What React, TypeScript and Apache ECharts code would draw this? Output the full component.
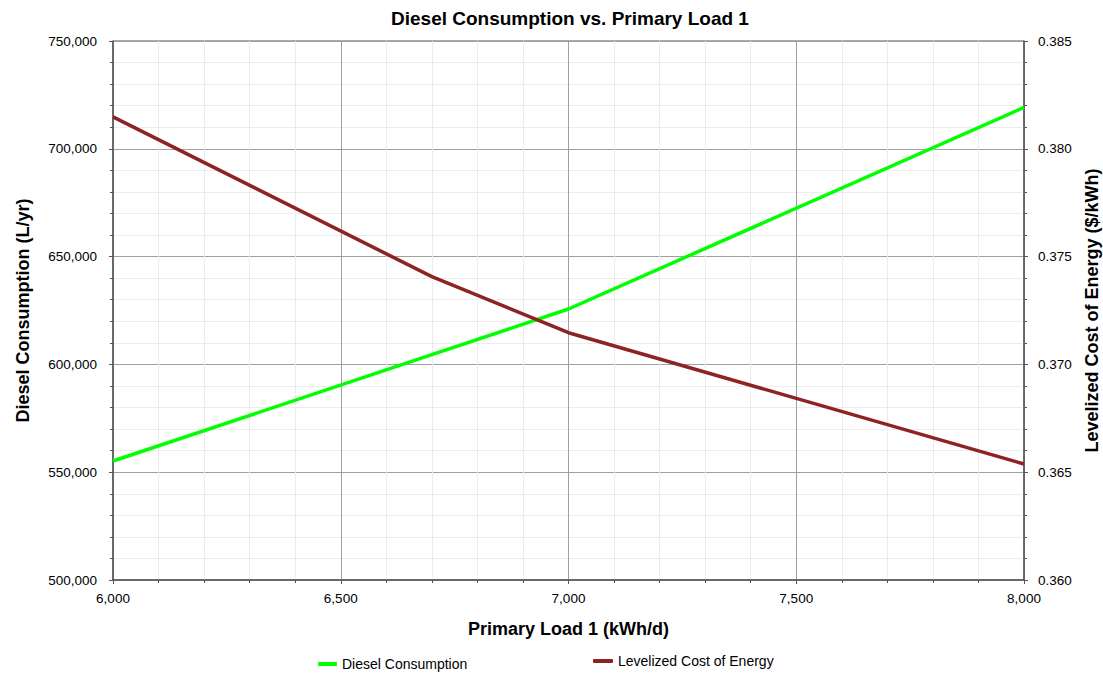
import React, { useEffect, useRef } from "react";
import * as echarts from "echarts";

const primaryLoad = [6000, 6700, 7000, 8000];
const dieselConsumption = [555200, 604500, 625700, 719200];
const levelizedCOE = [0.38148, 0.37407, 0.37147, 0.36538];

const FONT = "Liberation Sans, Arial, sans-serif";

export default function App() {
  const ref = useRef<HTMLDivElement>(null);
  useEffect(() => {
    if (!ref.current) return;
    const chart = echarts.init(ref.current, undefined, { renderer: "svg" });
    const fmtInt = (v: number) => Math.round(v).toLocaleString("en-US");
    const nameStyle = { fontFamily: FONT, fontSize: 18, fontWeight: "bold", color: "#000" };
    chart.setOption({
      animation: false,
      backgroundColor: "#ffffff",
      textStyle: { fontFamily: FONT },
      title: {
        text: "Diesel Consumption vs. Primary Load 1",
        left: 386,
        top: 4,
        textStyle: { fontFamily: FONT, fontSize: 19, fontWeight: "bold", color: "#000" },
      },
      grid: {
        left: 113,
        right: 79,
        top: 41,
        bottom: 96,
        show: true,
        borderColor: "#555",
        borderWidth: 1,
        backgroundColor: "transparent",
        outerBoundsMode: "none",
        containLabel: false,
      },
      legend: [
        {
          data: ["Diesel Consumption"],
          left: 318,
          top: 657,
          icon: "roundRect",
          itemWidth: 19,
          itemHeight: 4,
          padding: 0,
          textStyle: { fontFamily: FONT, fontSize: 14, color: "#000" },
        },
        {
          data: ["Levelized Cost of Energy"],
          left: 593,
          top: 654,
          icon: "roundRect",
          itemWidth: 20,
          itemHeight: 4,
          padding: 0,
          textStyle: { fontFamily: FONT, fontSize: 14, color: "#000" },
        },
      ],
      xAxis: {
        type: "value",
        min: 6000,
        max: 8000,
        interval: 500,
        name: "Primary Load 1 (kWh/d)",
        nameLocation: "middle",
        nameGap: 40,
        nameTextStyle: nameStyle,
        axisLine: { show: true, lineStyle: { color: "#555", width: 1.5 } },
        axisTick: { show: true, length: 4, lineStyle: { color: "#555" } },
        minorTick: { show: true, splitNumber: 5, length: 3, lineStyle: { color: "#555" } },
        axisLabel: { formatter: fmtInt, fontSize: 13.5, color: "#000", margin: 11, fontFamily: FONT },
        splitLine: { show: true, lineStyle: { color: "#a0a0a0", width: 1 } },
        minorSplitLine: { show: true, lineStyle: { color: "#ececec", width: 1 } },
      },
      yAxis: [
        {
          type: "value",
          position: "left",
          min: 500000,
          max: 750000,
          interval: 50000,
          name: "Diesel Consumption (L/yr)",
          nameLocation: "middle",
          nameRotate: 90,
          nameGap: 81,
          nameTextStyle: nameStyle,
          axisLine: { show: true, lineStyle: { color: "#555", width: 1.5 } },
          axisTick: { show: true, length: 4, lineStyle: { color: "#555" } },
          minorTick: { show: true, splitNumber: 5, length: 3, lineStyle: { color: "#555" } },
          axisLabel: { formatter: fmtInt, fontSize: 13.5, color: "#000", margin: 16, fontFamily: FONT },
          splitLine: { show: true, lineStyle: { color: "#a0a0a0", width: 1 } },
          minorSplitLine: { show: true, lineStyle: { color: "#ececec", width: 1 } },
        },
        {
          type: "value",
          position: "right",
          min: 0.36,
          max: 0.385,
          interval: 0.005,
          name: "Levelized Cost of Energy ($/kWh)",
          nameLocation: "middle",
          nameRotate: 90,
          nameGap: 58,
          nameTextStyle: nameStyle,
          axisLine: { show: true, lineStyle: { color: "#555", width: 1.5 } },
          axisTick: { show: true, length: 4, lineStyle: { color: "#555" } },
          minorTick: { show: true, splitNumber: 5, length: 3, lineStyle: { color: "#555" } },
          axisLabel: {
            formatter: (v: number) => v.toFixed(3),
            fontSize: 13.5,
            color: "#000",
            margin: 14,
            fontFamily: FONT,
          },
          splitLine: { show: false },
          minorSplitLine: { show: false },
        },
      ],
      series: [
        {
          name: "Diesel Consumption",
          type: "line",
          yAxisIndex: 0,
          showSymbol: false,
          symbol: "none",
          color: "#00ff00",
          lineStyle: { color: "#00ff00", width: 3.5 },
          data: primaryLoad.map((x, i) => [x, dieselConsumption[i]]),
          z: 3,
        },
        {
          name: "Levelized Cost of Energy",
          type: "line",
          yAxisIndex: 1,
          showSymbol: false,
          symbol: "none",
          color: "#8e2323",
          lineStyle: { color: "#8e2323", width: 3.5 },
          data: primaryLoad.map((x, i) => [x, levelizedCOE[i]]),
          z: 4,
        },
      ],
    });
    return () => chart.dispose();
  }, []);
  return <div ref={ref} style={{ width: 1103, height: 676, position: "absolute", left: 0, top: 0 }} />;
}
